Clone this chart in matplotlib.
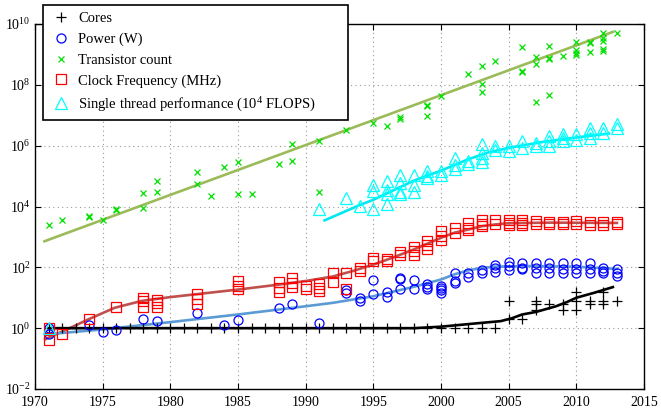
import matplotlib
matplotlib.use("Agg")
import matplotlib.pyplot as plt
from matplotlib.ticker import LogFormatterMathtext, FixedLocator, NullLocator

plt.rcParams['font.family'] = ['Liberation Serif', 'DejaVu Serif']
plt.rcParams['mathtext.fontset'] = 'custom'
plt.rcParams['mathtext.rm'] = 'Liberation Serif'
plt.rcParams['mathtext.it'] = 'Liberation Serif:italic'
plt.rcParams['mathtext.bf'] = 'Liberation Serif:bold'

# ---------------- data ----------------
# Transistor count
tr_years = [1971, 1972, 1974, 1974, 1975, 1976, 1976, 1978, 1978, 1979, 1979,
            1982, 1982, 1983, 1984, 1985, 1985, 1986, 1988, 1989, 1989, 1991, 1991,
            1993, 1995, 1996, 1997, 1997, 1999, 1999, 1999, 2000, 2002,
            2003, 2003, 2003, 2004, 2006, 2006, 2006, 2007, 2007, 2007,
            2008, 2008, 2008, 2008, 2009, 2010, 2010, 2010, 2010,
            2011, 2011, 2011, 2012, 2012, 2012, 2012, 2012, 2013]
tr_values = [2400, 3500, 5000, 4500, 3500, 8500, 7600, 28000, 9100, 68000, 29500,
             135000, 56000, 22000, 204000, 290000, 25000, 25000, 257000, 1.17e6, 3.09e5, 1.41e6, 30000,
             3.16e6, 5.5e6, 4.4e6, 8.5e6, 7.6e6, 2.24e7, 2.0e7, 9.8e6, 4.3e7, 2.3e8,
             4.1e8, 1.1e8, 5.8e7, 6.0e8, 1.74e9, 2.95e8, 2.6e8, 8.1e8, 4.7e8, 2.7e7,
             1.95e9, 7.6e8, 7.1e8, 4.8e7, 9.1e8, 2.5e9, 1.45e9, 1.12e9, 9.3e8,
             2.5e9, 2.3e9, 1.17e9, 5.1e9, 3.5e9, 2.8e9, 1.5e9, 1.3e9, 5.1e9]

# Single thread performance (10^4 FLOPS)
st_years = [1971, 1991, 1993, 1994, 1995, 1995, 1995, 1996, 1996, 1996, 1996,
            1997, 1997, 1997, 1997, 1998, 1998, 1998, 1999, 1999, 1999, 2000, 2000,
            2001, 2001, 2001, 2002, 2002, 2003, 2003, 2003, 2003, 2004, 2004,
            2005, 2005, 2006, 2006, 2007, 2007, 2008, 2008, 2008, 2009, 2009, 2009,
            2010, 2010, 2011, 2011, 2011, 2012, 2012, 2013, 2013]
st_values = [1.0, 8500, 19500, 10200, 52000, 32000, 8000, 68000, 36000, 25000, 11700,
             112000, 60000, 30000, 26000, 112000, 52000, 30000, 145000, 100000, 87000, 145000, 107000,
             398000, 240000, 166000, 309000, 251000, 1.1e6, 589000, 398000, 295000, 955000, 741000,
             955000, 661000, 1.41e6, 851000, 1.23e6, 955000, 2.04e6, 1.41e6, 955000, 2.34e6, 1.82e6, 1.41e6,
             2.34e6, 1.58e6, 3.9e6, 2.63e6, 1.82e6, 3.9e6, 2.63e6, 5.0e6, 3.9e6]

# Clock frequency (MHz)
cf_years = [1971, 1971, 1972, 1974, 1976, 1978, 1978, 1978, 1979, 1979, 1979,
            1982, 1982, 1982, 1985, 1985, 1985, 1988, 1988, 1988, 1989, 1989, 1989,
            1990, 1990, 1991, 1991, 1991, 1992, 1992, 1993, 1993, 1994, 1994,
            1995, 1995, 1996, 1996, 1997, 1997, 1998, 1998, 1998, 1999, 1999, 1999,
            2000, 2000, 2000, 2001, 2001, 2002, 2002, 2002, 2003, 2003, 2003,
            2004, 2004, 2005, 2005, 2005, 2006, 2006, 2006, 2007, 2007, 2008, 2008,
            2009, 2009, 2010, 2010, 2011, 2011, 2012, 2012, 2013, 2013]
cf_values = [1.0, 0.41, 0.62, 2.0, 5.0, 10, 7.8, 5.0, 8.3, 6.5, 5.0,
             12.9, 9.3, 6.0, 35, 25, 20, 32, 21, 15, 46, 31, 23,
             25, 20, 27.5, 21, 16.6, 66, 32, 63, 20, 98, 74,
             204, 158, 190, 158, 316, 245, 479, 339, 245, 724, 562, 389,
             1550, 1050, 776, 2000, 1380, 2880, 2000, 1660, 3550, 2750, 2240,
             3550, 2750, 3550, 2950, 2400, 3720, 2950, 2400, 3310, 2570, 3160, 2570,
             3160, 2570, 3310, 2570, 3160, 2400, 3160, 2400, 3160, 2570]

# Power (W)
pw_years = [1971, 1971, 1974, 1975, 1976, 1978, 1979, 1982, 1984, 1985, 1988, 1989, 1991,
            1993, 1993, 1994, 1994, 1995, 1995, 1996, 1996, 1997, 1997, 1997, 1998, 1998,
            1999, 1999, 1999, 2000, 2000, 2000, 2000, 2001, 2001, 2001, 2002, 2002, 2003, 2003,
            2004, 2004, 2004, 2005, 2005, 2005, 2006, 2006, 2006, 2007, 2007, 2007,
            2008, 2008, 2008, 2009, 2009, 2009, 2010, 2010, 2010, 2011, 2011, 2011,
            2012, 2012, 2012, 2013, 2013, 2013]
pw_values = [1.0, 0.62, 1.3, 0.74, 0.85, 1.95, 1.7, 3.2, 1.23, 1.8, 4.7, 6.0, 1.5,
             17.8, 13.8, 10, 7.8, 38, 12.9, 15.1, 10.7, 46, 40, 20, 38, 20,
             27.5, 23, 20, 25, 21, 17.8, 14.5, 63, 35, 30, 63, 49, 81, 63,
             123, 98, 69, 145, 110, 80, 135, 98, 85, 135, 98, 63,
             135, 98, 63, 135, 85, 63, 135, 85, 66, 135, 85, 63,
             98, 76, 63, 85, 66, 51]

# Number of cores
co_years = list(range(1971, 2005)) + [2005, 2005, 2006, 2007, 2007, 2007, 2008, 2009, 2009,
                                      2010, 2010, 2010, 2011, 2011, 2012, 2012, 2012, 2013]
co_values = [1] * 34 + [8, 2, 2, 8, 6, 4, 6, 6, 4, 16, 8, 4, 8, 6, 16, 8, 6, 8]

# Trend curves
tr_fit_years = [1970.7, 2012.7]
tr_fit_values = [7.2e2, 5.5e9]

st_fit_years = [1991.4, 1994, 1995, 1998, 2000, 2002, 2003.5, 2005, 2007.5, 2010, 2012.4]
st_fit_values = [3.5e3, 1.12e4, 1.66e4, 7.1e4, 1.51e5, 3.55e5, 6.0e5, 8.5e5, 1.32e6, 1.86e6, 2.5e6]

cf_fit_years = [1970.75, 1972.8, 1974, 1975.9, 1977.9, 1980, 1982, 1985, 1988, 1990, 1992,
                1993.5, 1995, 1996.5, 1998, 2000, 2001, 2002, 2003, 2004, 2005, 2006.5, 2008, 2013]
cf_fit_values = [0.43, 1.12, 2.0, 4.7, 7.9, 10.5, 13.2, 18.6, 27, 35.5, 50,
                 76, 123, 214, 389, 933, 1380, 1740, 2240, 2570, 2820, 2880, 2950, 2880]

pw_fit_years = [1970.75, 1975, 1980, 1985, 1990, 1992, 1995, 1998, 2000, 2001, 2002, 2003,
                2004, 2006.5, 2010, 2013]
pw_fit_values = [0.62, 0.91, 1.58, 2.82, 5.25, 6.8, 11.2, 22.9, 39.8, 58.9, 79.4, 95.5,
                 105, 110, 105, 89]

co_fit_years = [1971, 1998, 2000, 2002.9, 2004.4, 2005.2, 2006, 2007, 2008.5, 2009.3, 2010,
                2011.3, 2012.7]
co_fit_values = [1.0, 1.0, 1.12, 1.48, 1.7, 2.09, 2.82, 3.4, 5.25, 7.2, 10.0, 14.5, 22.4]

# ---------------- figure ----------------
fig = plt.figure(figsize=(6.61, 4.08), dpi=100)
ax = fig.add_axes([35 / 661, 19 / 408, 609 / 661, 365 / 408])

lw = 1.9
ax.plot(tr_fit_years, tr_fit_values, color='#9bbb59', lw=lw, zorder=3)
ax.plot(st_fit_years, st_fit_values, color='#00e8f0', lw=lw, zorder=3)
ax.plot(cf_fit_years, cf_fit_values, color='#c0504d', lw=lw, zorder=3)
ax.plot(pw_fit_years, pw_fit_values, color='#5b9bd5', lw=lw, zorder=3)
ax.plot(co_fit_years, co_fit_values, color='black', lw=lw, zorder=3)

h_co, = ax.plot(co_years, co_values, ls='none', marker='+', ms=7, mew=0.9,
                color='black', label='Cores', zorder=4)
h_pw, = ax.plot(pw_years, pw_values, ls='none', marker='o', ms=6.5, mew=0.9,
                mfc='none', mec='#0000ff', label='Power (W)', zorder=4)
h_tr, = ax.plot(tr_years, tr_values, ls='none', marker='x', ms=5, mew=0.9,
                color='#00e000', label='Transistor count', zorder=4)
h_cf, = ax.plot(cf_years, cf_values, ls='none', marker='s', ms=7, mew=0.9,
                mfc='none', mec='#ff0000', label='Clock Frequency (MHz)', zorder=4)
h_st, = ax.plot(st_years, st_values, ls='none', marker='^', ms=8, mew=0.9,
                mfc='none', mec='#00ffff', label='Single thread performance (10$^4$ FLOPS)', zorder=4)

ax.set_yscale('log')
ax.set_xlim(1970, 2015)
ax.set_ylim(1e-2, 1e10)
ax.xaxis.set_major_locator(FixedLocator(list(range(1970, 2016, 5))))
ax.yaxis.set_major_locator(FixedLocator([10.0 ** k for k in range(-2, 11, 2)]))
ax.yaxis.set_major_formatter(LogFormatterMathtext())
ax.yaxis.set_minor_locator(NullLocator())
ax.xaxis.set_minor_locator(NullLocator())

ax.grid(True, which='major', ls=(0, (1, 3)), color='#999999', lw=0.8)
ax.tick_params(direction='in', top=True, right=True, length=4, width=0.8,
               labelsize=10)
ax.tick_params(axis='x', pad=5)
ax.tick_params(axis='y', pad=3)
for s in ax.spines.values():
    s.set_linewidth(1.0)

leg = fig.legend(handles=[h_co, h_pw, h_tr, h_cf, h_st], loc='upper left',
                 bbox_to_anchor=(43 / 661, 1 - 117 / 408, 305 / 661, 112 / 408),
                 bbox_transform=fig.transFigure, mode='expand',
                 borderaxespad=0, numpoints=1, fontsize=10.5, frameon=True, fancybox=False,
                 framealpha=1, edgecolor='black', borderpad=0.45, handlelength=1.5,
                 handletextpad=0.45, labelspacing=0.52)
leg.get_frame().set_linewidth(1.2)
leg.set_zorder(10)

fig.savefig('out.png', dpi=100)
